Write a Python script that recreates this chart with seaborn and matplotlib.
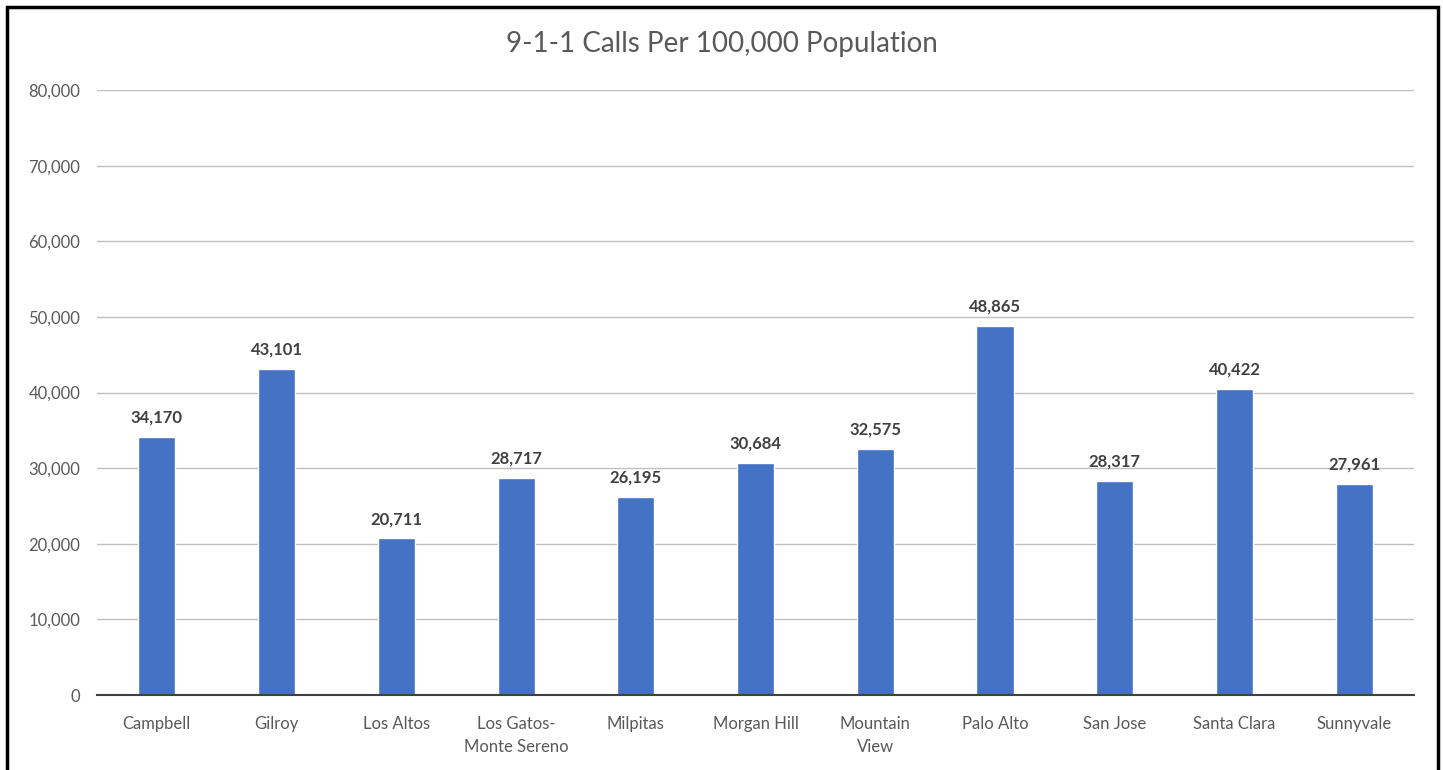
import matplotlib
matplotlib.use('Agg')
import matplotlib.pyplot as plt
import seaborn as sns
import pandas as pd
from matplotlib.patches import Rectangle

# data
cities = ['Campbell', 'Gilroy', 'Los Altos', 'Los Gatos-\nMonte Sereno', 'Milpitas',
          'Morgan Hill', 'Mountain\nView', 'Palo Alto', 'San Jose', 'Santa Clara', 'Sunnyvale']
calls = [34170, 43101, 20711, 28717, 26195, 30684, 32575, 48865, 28317, 40422, 27961]
yticks = [0, 10000, 20000, 30000, 40000, 50000, 60000, 70000, 80000]

df = pd.DataFrame({'city': cities, 'calls': calls})

sns.set_style('white')
plt.rcParams['font.family'] = ['Lato', 'DejaVu Sans']

fig = plt.figure(figsize=(14.43, 7.7), dpi=100)
ax = fig.add_axes([0.0672, 0.0974, 0.9128, 0.7856])

sns.barplot(data=df, x='city', y='calls', color='#4472C4', width=0.31,
            saturation=1, ax=ax, zorder=3)

ax.set_ylim(0, 80000)
ax.set_xlim(-0.5, len(cities) - 0.5)
ax.set_yticks(yticks)
ax.set_yticklabels([f'{v:,}' for v in yticks], color='#595959', fontsize=12)
ax.set_xticks(range(len(cities)))
ax.set_xticklabels(cities, color='#595959', fontsize=12, linespacing=1.55)
ax.tick_params(axis='x', length=0, pad=15)
ax.tick_params(axis='y', length=0, pad=12)
ax.set_xlabel('')
ax.set_ylabel('')
ax.grid(axis='y', color='#BFBFBF', linewidth=1, zorder=0)
for s in ['top', 'right', 'left']:
    ax.spines[s].set_visible(False)
ax.spines['bottom'].set_color('#404040')
ax.spines['bottom'].set_linewidth(1.5)
ax.spines['bottom'].set_zorder(4)

for i, v in enumerate(calls):
    ax.text(i, v + 1500, f'{v:,}', ha='center', va='bottom', fontsize=12,
            fontweight='bold', color='#404040')

fig.text(0.5, 0.943, '9-1-1 Calls Per 100,000 Population', ha='center', va='center',
         fontsize=20, color='#595959')

# outer chart frame
fig.patches.append(Rectangle((7 / 1443, -0.05), 1431 / 1443, 1.05 - 7 / 770,
                             transform=fig.transFigure, fill=False,
                             edgecolor='black', linewidth=2.5))

fig.savefig('out.png', dpi=100)
